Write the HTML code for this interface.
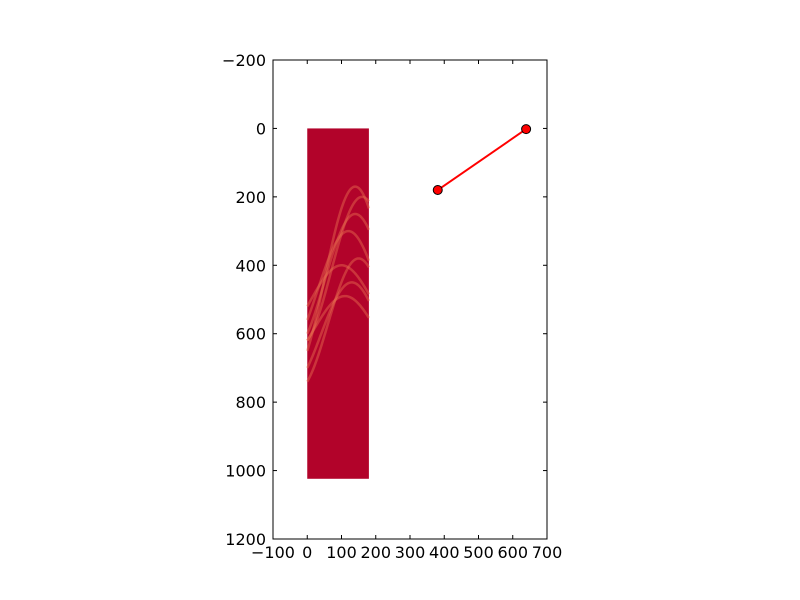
<!DOCTYPE html>
<html><head><meta charset="utf-8"><style>body{margin:0;background:#fff}svg{display:block}text{font-family:"DejaVu Sans",sans-serif;font-size:16px;fill:#000}</style></head>
<body>
<svg id="chart" width="800" height="600">
<rect width="800" height="600" fill="#fff"/>
<g id="plot"></g>
</svg>
<script>
const xTicks=[-100,0,100,200,300,400,500,600,700];
const yTicks=[-200,0,200,400,600,800,1000,1200];
const imgExtentX=[0,180];
const imgExtentY=[0,1024];
const lineX=[381,639];
const lineY=[180,2];
const curvePeakT=[140,140,150,120,100,160,130,110];
const curvePeakY=[170,250,380,300,400,200,450,490];
const curveStartY=[650,600,740,560,520,620,700,620];

const L=273,R=547,T=60,B=539;
const sx=v=>L+(v-(-100))/800*(R-L);
const sy=v=>T+(v-(-200))/1400*(B-T);
const ns='http://www.w3.org/2000/svg';
const g=document.getElementById('plot');
function mk(t,a,p){const e=document.createElementNS(ns,t);for(const k in a)e.setAttribute(k,a[k]);(p||g).appendChild(e);return e;}

const img=mk('rect',{x:sx(imgExtentX[0]),y:sy(imgExtentY[0]),width:sx(imgExtentX[1])-sx(imgExtentX[0]),height:sy(imgExtentY[1])-sy(imgExtentY[0]),fill:'#b2032a'});


curvePeakT.forEach((pt,i)=>{
  const c0=Math.cos((0-pt)/180*Math.PI);
  const amp=(curveStartY[i]-curvePeakY[i])/(1-c0);
  const center=curvePeakY[i]+amp;
  let d='';
  for(let t=0;t<=180;t+=3){const v=center-amp*Math.cos((t-pt)/180*Math.PI);d+=(t?'L':'M')+sx(t)+','+sy(v);}
  const c=mk('path',{d:d,fill:'none',stroke:'#e8704f','stroke-width':2.5,opacity:0.45});
  
  
});

const frame=mk('rect',{x:L,y:T,width:R-L,height:B-T,fill:'none',stroke:'#000','stroke-width':1});



xTicks.forEach(v=>{
  const x=sx(v);
  mk('line',{x1:x,x2:x,y1:B,y2:B-4,stroke:'#000'});
  mk('line',{x1:x,x2:x,y1:T,y2:T+4,stroke:'#000'});
  const t=mk('text',{x:x,y:B+19,'text-anchor':'middle'});t.textContent=(v<0?'\u2212'+(-v):v);
  
  
});
yTicks.forEach(v=>{
  const y=sy(v);
  mk('line',{x1:L,x2:L+4,y1:y,y2:y,stroke:'#000'});
  mk('line',{x1:R,x2:R-4,y1:y,y2:y,stroke:'#000'});
  const t=mk('text',{x:L-7,y:y+6,'text-anchor':'end'});t.textContent=(v<0?'\u2212'+(-v):v);
  
  
});

const ln=mk('polyline',{points:lineX.map((x,i)=>sx(x)+','+sy(lineY[i])).join(' '),fill:'none',stroke:'#f00','stroke-width':2});


lineX.forEach((x,i)=>{
  const c=mk('circle',{cx:sx(x),cy:sy(lineY[i]),r:4.5,fill:'#f00',stroke:'#000','stroke-width':1});
  
  
});
</script>
</body></html>
